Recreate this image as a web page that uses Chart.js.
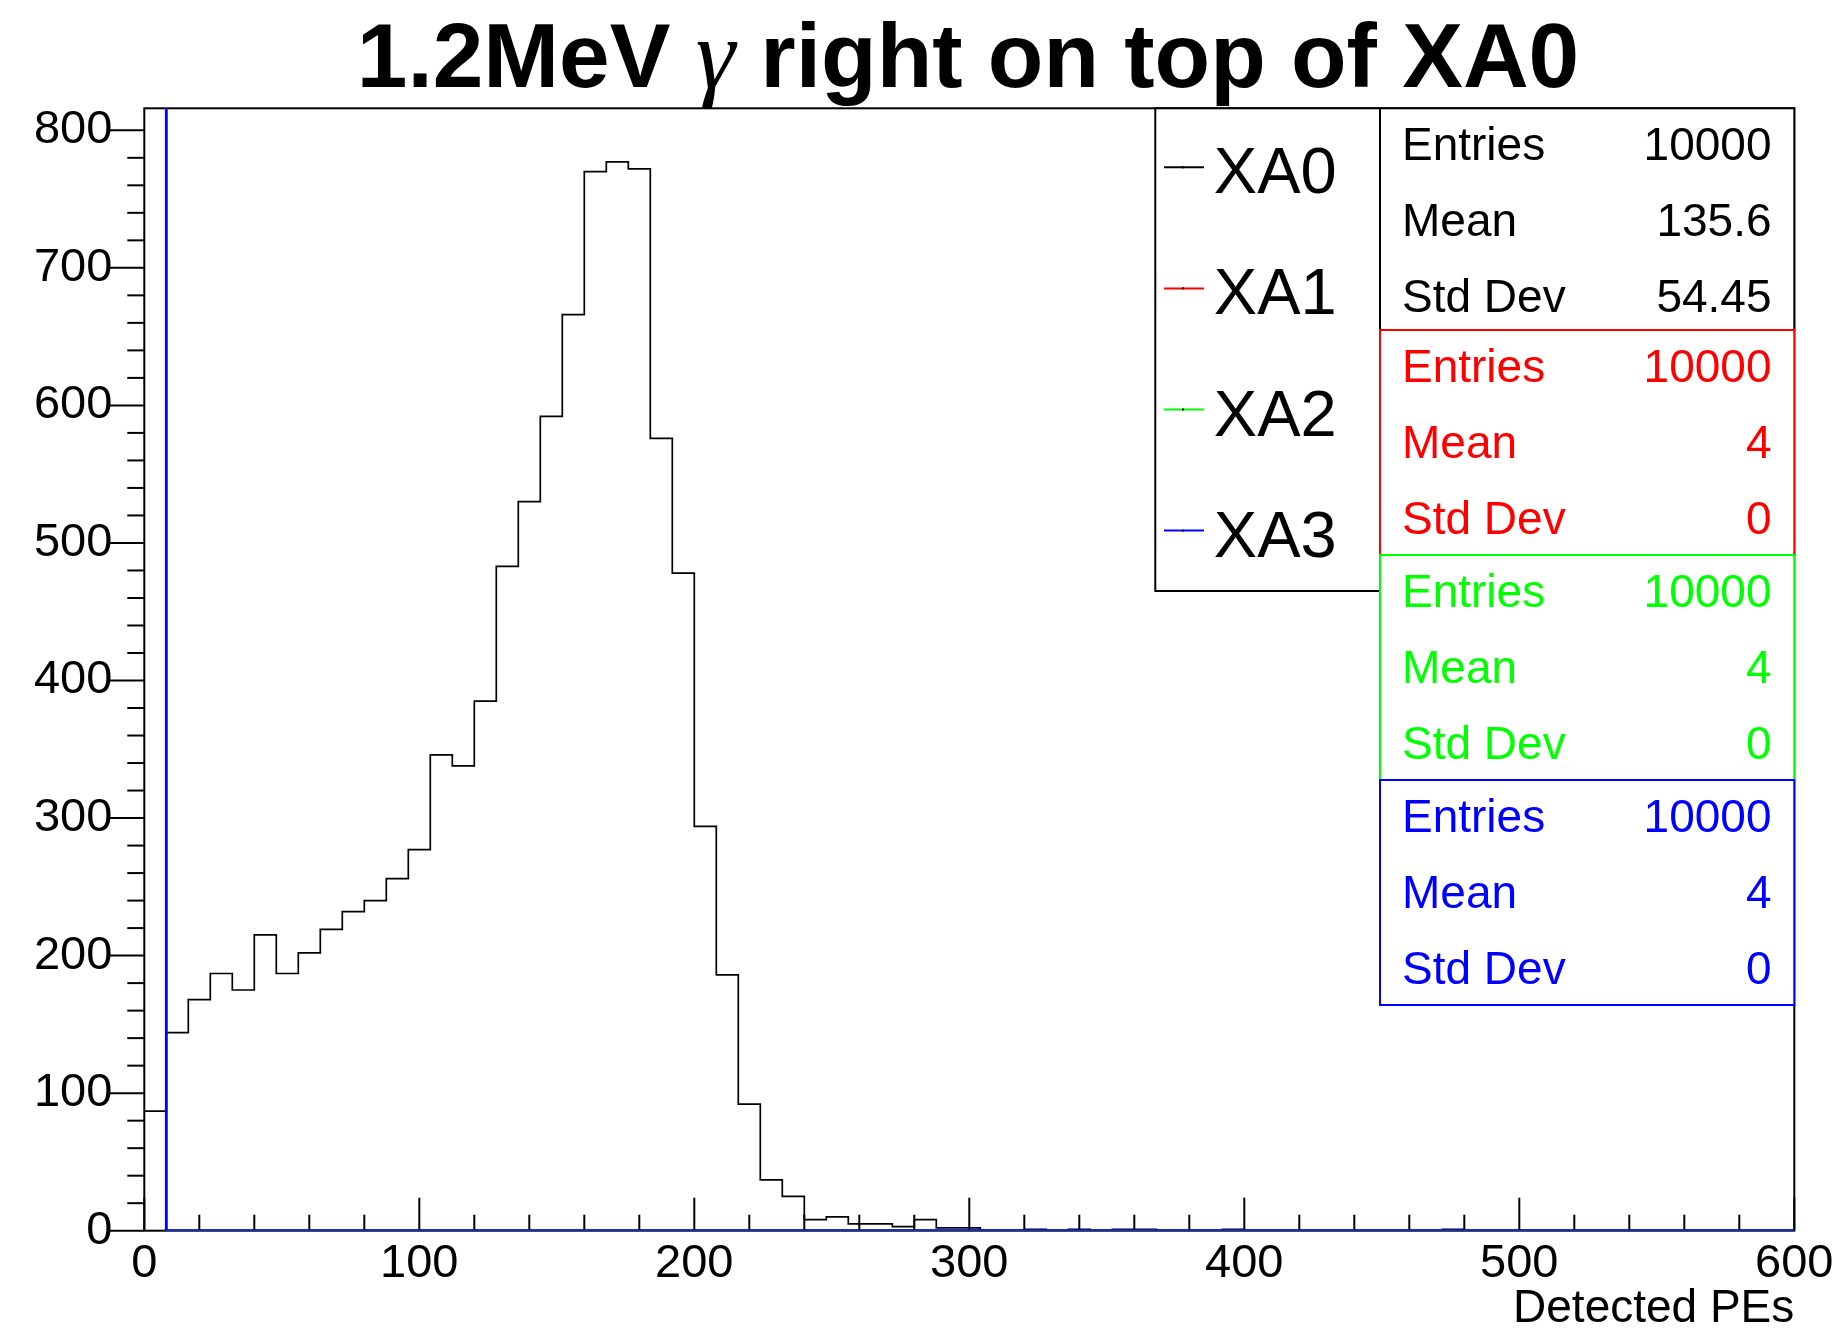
<!DOCTYPE html>
<html>
<head>
<meta charset="utf-8">
<script src="https://cdn.jsdelivr.net/npm/chart.js@4.4.1/dist/chart.umd.min.js"></script>
<style>
    html, body { margin: 0; padding: 0; background: #ffffff; }
    #peCanvas { display: block; }
</style>
</head>
<body>
<canvas id="peCanvas" width="1839" height="1332"></canvas>
<script>
// histogram binning: 75 bins of 8 PEs from 0 to 600
const binWidth = 8;
const xRange = [0, 600];
const yRange = [0, 816];

const seriesNames = ['XA0', 'XA1', 'XA2', 'XA3'];
const seriesColors = ['#000000', '#ff0000', '#00ff00', '#0000ff'];

const xa0Counts = [
    87, 144, 168, 187, 175, 215, 187, 202, 219, 232, 240, 256, 277, 346, 338,
    385, 483, 530, 592, 666, 770, 777, 772, 576, 478, 294, 186, 92, 37, 25,
    8, 10, 5, 5, 3, 8, 2, 2, 0, 0, 1, 0, 1, 0, 1,
    1, 0, 0, 0, 1, 0, 0, 0, 0, 0, 0, 0, 0, 0, 1,
    0, 0, 0, 0, 0, 0, 0, 0, 0, 0, 0, 0, 0, 0, 0
];
const xa1Counts = [
    10000, 0, 0, 0, 0, 0, 0, 0, 0, 0, 0, 0, 0, 0, 0,
    0, 0, 0, 0, 0, 0, 0, 0, 0, 0, 0, 0, 0, 0, 0,
    0, 0, 0, 0, 0, 0, 0, 0, 0, 0, 0, 0, 0, 0, 0,
    0, 0, 0, 0, 0, 0, 0, 0, 0, 0, 0, 0, 0, 0, 0,
    0, 0, 0, 0, 0, 0, 0, 0, 0, 0, 0, 0, 0, 0, 0
];
const xa2Counts = [
    10000, 0, 0, 0, 0, 0, 0, 0, 0, 0, 0, 0, 0, 0, 0,
    0, 0, 0, 0, 0, 0, 0, 0, 0, 0, 0, 0, 0, 0, 0,
    0, 0, 0, 0, 0, 0, 0, 0, 0, 0, 0, 0, 0, 0, 0,
    0, 0, 0, 0, 0, 0, 0, 0, 0, 0, 0, 0, 0, 0, 0,
    0, 0, 0, 0, 0, 0, 0, 0, 0, 0, 0, 0, 0, 0, 0
];
const xa3Counts = [
    10000, 0, 0, 0, 0, 0, 0, 0, 0, 0, 0, 0, 0, 0, 0,
    0, 0, 0, 0, 0, 0, 0, 0, 0, 0, 0, 0, 0, 0, 0,
    0, 0, 0, 0, 0, 0, 0, 0, 0, 0, 0, 0, 0, 0, 0,
    0, 0, 0, 0, 0, 0, 0, 0, 0, 0, 0, 0, 0, 0, 0,
    0, 0, 0, 0, 0, 0, 0, 0, 0, 0, 0, 0, 0, 0, 0
];

// stat boxes
const statLabels = ['Entries', 'Mean', 'Std Dev'];
const xa0Stats = ['10000', '135.6', '54.45'];
const xa1Stats = ['10000', '4', '0'];
const xa2Stats = ['10000', '4', '0'];
const xa3Stats = ['10000', '4', '0'];

const titleParts = ['1.2MeV ', '\u03b3', ' right on top of XA0'];
const xAxisTitle = 'Detected PEs';
const minorStep = 20;
const majorStep = 100;

const allCounts = [xa0Counts, xa1Counts, xa2Counts, xa3Counts];
const allStats = [xa0Stats, xa1Stats, xa2Stats, xa3Stats];

function toSteps(counts) {
    let pts = counts.map(function (c, i) {
        return {x: xRange[0] + i * binWidth, y: c};
    });
    pts.push({x: xRange[1], y: counts[counts.length - 1]});
    return pts;
}

const sansFont = '"Liberation Sans", Helvetica, Arial, sans-serif';

function line(ctx, x1, y1, x2, y2) {
    ctx.beginPath();
    ctx.moveTo(x1, y1);
    ctx.lineTo(x2, y2);
    ctx.stroke();
}

// ROOT-like frame and tick marks, drawn under the histograms
const frameTicks = {
    id: 'frameTicks',
    beforeDatasetsDraw: function (chart) {
        const ctx = chart.ctx;
        const a = chart.chartArea;
        const xs = chart.scales.x;
        const ys = chart.scales.y;
        ctx.save();
        ctx.strokeStyle = '#000';
        ctx.lineWidth = 2;
        ctx.strokeRect(a.left, a.top, a.right - a.left, a.bottom - a.top);
        for (let v = xs.min; v <= xs.max; v += minorStep) {
            const px = xs.getPixelForValue(v);
            const len = (v % majorStep === 0) ? 33 : 16;
            line(ctx, px, a.bottom, px, a.bottom - len);
        }
        for (let v = ys.min; v <= ys.max; v += minorStep) {
            const py = ys.getPixelForValue(v);
            const len = (v % majorStep === 0) ? 36 : 17;
            line(ctx, a.left, py, a.left - len, py);
        }
        ctx.restore();
    }
};

// title, legend and stat boxes
const rootDecor = {
    id: 'rootDecor',
    afterDraw: function (chart) {
        const ctx = chart.ctx;
        const a = chart.chartArea;
        ctx.save();

        // title with italic gamma
        const fonts = ['bold 91px ' + sansFont, 'italic 100px "Liberation Serif", "DejaVu Serif", serif', 'bold 91px ' + sansFont];
        const baselines = [87, 88, 87];
        let widths = [];
        let total = 0;
        titleParts.forEach(function (t, i) {
            ctx.font = fonts[i];
            widths.push(ctx.measureText(t).width);
            total += widths[i];
        });
        let tx = 968 - total / 2;
        ctx.fillStyle = '#000';
        ctx.textBaseline = 'alphabetic';
        ctx.textAlign = 'left';
        titleParts.forEach(function (t, i) {
            ctx.font = fonts[i];
            ctx.fillText(t, tx, baselines[i]);
            tx += widths[i];
        });

        // legend box
        const lgLeft = 1155.3, lgRight = 1380, lgBottom = 591;
        ctx.fillStyle = '#fff';
        ctx.fillRect(lgLeft, a.top, lgRight - lgLeft, lgBottom - a.top);
        ctx.strokeStyle = '#000';
        ctx.lineWidth = 2;
        ctx.strokeRect(lgLeft, a.top, lgRight - lgLeft, lgBottom - a.top);
        ctx.font = '65px ' + sansFont;
        chart.data.datasets.forEach(function (ds, i) {
            const base = 193.3 + i * 121.1;
            ctx.strokeStyle = ds.borderColor;
            ctx.lineWidth = 2;
            line(ctx, 1164, base - 26, 1204, base - 26);
            ctx.fillStyle = '#000';
            ctx.fillRect(1182, base - 27, 2, 2);
            ctx.fillText(ds.label, 1213.8, base);
        });

        // stat boxes
        const stLeft = 1380, stRight = a.right;
        const boxTops = [a.top, 330, 555, 780, 1005];
        ctx.font = '46px ' + sansFont;
        allStats.forEach(function (vals, k) {
            const top = boxTops[k], bottom = boxTops[k + 1];
            ctx.fillStyle = '#fff';
            ctx.fillRect(stLeft, top, stRight - stLeft, bottom - top);
            ctx.strokeStyle = seriesColors[k];
            ctx.lineWidth = 2;
            ctx.strokeRect(stLeft, top, stRight - stLeft, bottom - top);
            ctx.fillStyle = seriesColors[k];
            statLabels.forEach(function (lab, r) {
                const base = top + 52 + r * 76;
                ctx.textAlign = 'left';
                ctx.fillText(lab, 1402, base);
                ctx.textAlign = 'right';
                ctx.fillText(vals[r], 1771.5, base);
            });
        });
        ctx.restore();
    }
};

const datasets = seriesNames.map(function (name, k) {
    return {
        label: name,
        data: toSteps(allCounts[k]),
        borderColor: seriesColors[k],
        backgroundColor: seriesColors[k],
        borderWidth: k === 3 ? 2.8 : 1.7,
        stepped: 'before',
        fill: false,
        pointRadius: 0,
        tension: 0,
        order: 3 - k
    };
});

const config = {
    type: 'line',
    data: {datasets: datasets},
    plugins: [frameTicks, rootDecor],
    options: {
        responsive: false,
        animation: false,
        events: [],
        layout: {
            padding: {top: 108.3, right: 44.7, left: 0, bottom: 0}
        },
        plugins: {
            legend: {display: false},
            title: {display: false},
            tooltip: {enabled: false}
        },
        scales: {
            x: {
                type: 'linear',
                min: xRange[0],
                max: xRange[1],
                grid: {display: false, drawTicks: false},
                border: {display: false},
                ticks: {
                    stepSize: majorStep,
                    includeBounds: false,
                    maxRotation: 0,
                    autoSkip: false,
                    padding: 0,
                    color: '#000',
                    font: {family: sansFont, size: 47, lineHeight: 1.4}
                },
                title: {
                    display: true,
                    text: xAxisTitle,
                    align: 'end',
                    color: '#000',
                    padding: 0,
                    font: {family: sansFont, size: 46, lineHeight: 1}
                },
                afterFit: function (scale) {
                    scale.height = 101.3;
                }
            },
            y: {
                type: 'linear',
                min: yRange[0],
                max: yRange[1],
                grid: {display: false, drawTicks: false},
                border: {display: false},
                ticks: {
                    stepSize: majorStep,
                    includeBounds: false,
                    padding: 32,
                    color: '#000',
                    font: {family: sansFont, size: 47, lineHeight: 1}
                },
                afterFit: function (scale) {
                    scale.width = 144.3;
                }
            }
        }
    }
};

let peChart = new Chart(document.getElementById('peCanvas'), config);
</script>
</body>
</html>
